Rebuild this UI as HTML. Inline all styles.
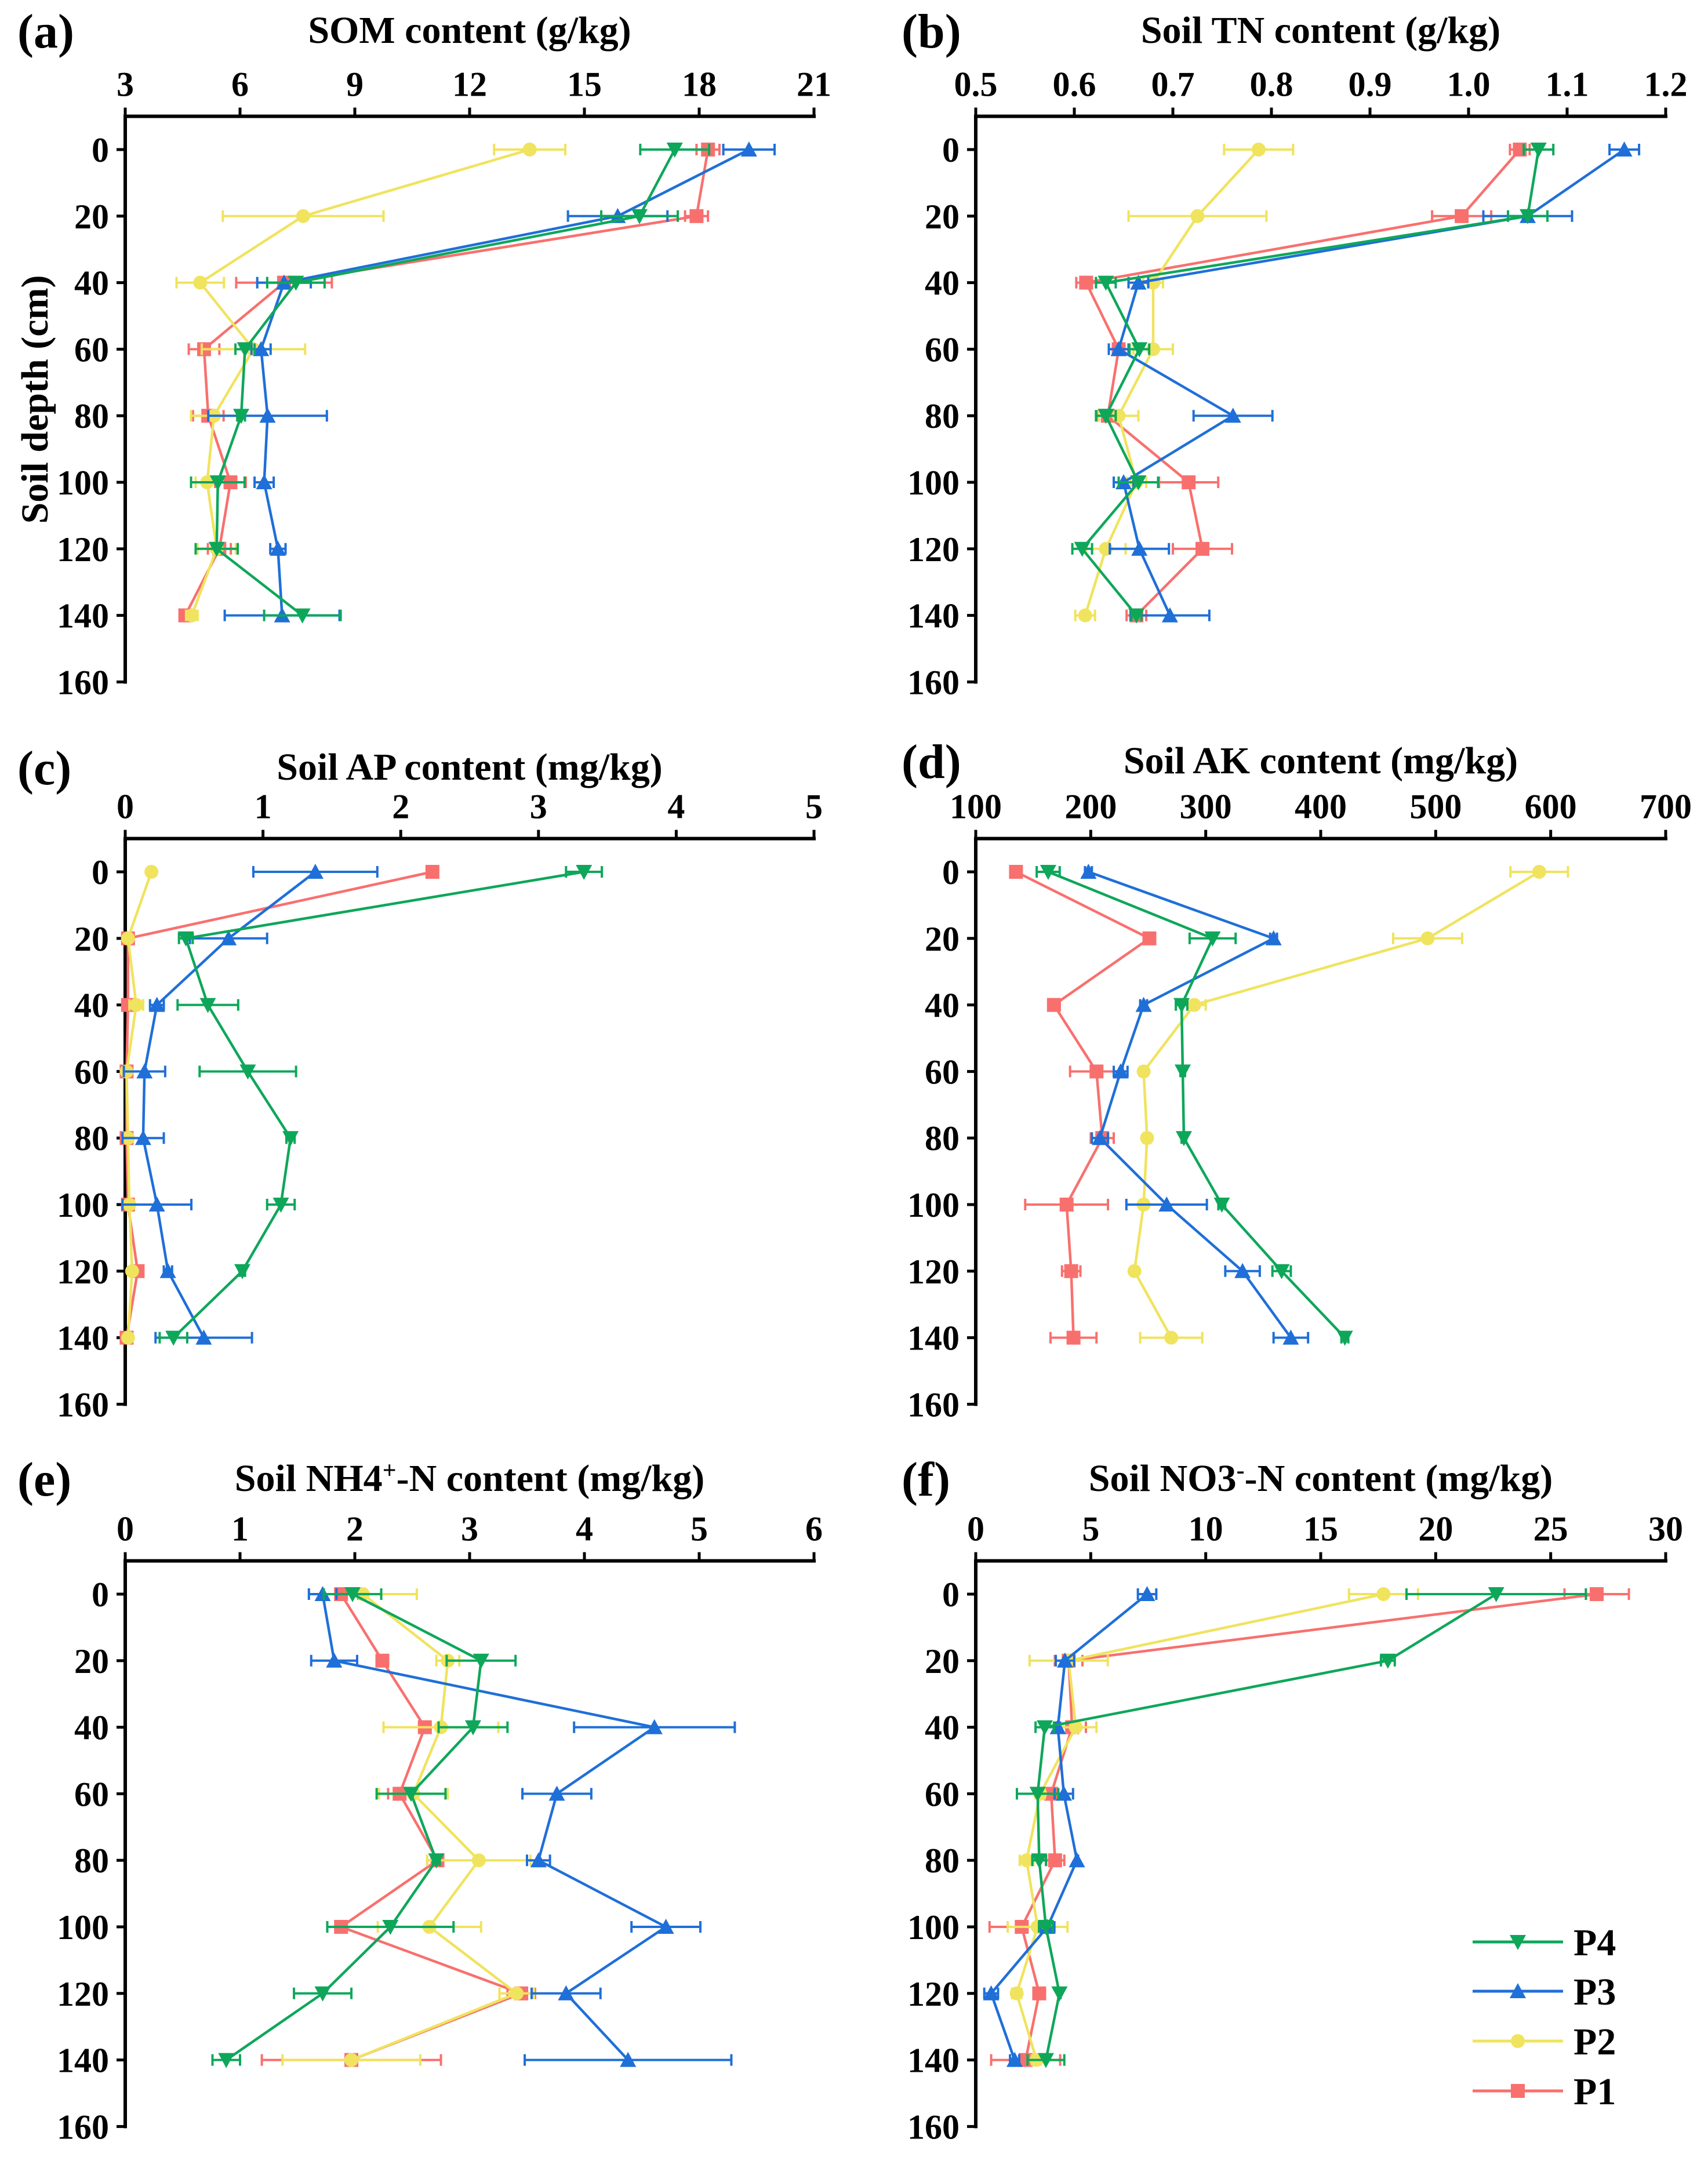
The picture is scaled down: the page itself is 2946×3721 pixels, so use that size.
<!DOCTYPE html>
<html><head><meta charset="utf-8"><style>
html,body{margin:0;padding:0;background:#fff}
svg{display:block}
text{font-family:"Liberation Serif",serif;font-weight:bold;fill:#000}
</style></head><body>
<svg id="chart" width="2946" height="3721" viewBox="0 0 2946 3721" xmlns="http://www.w3.org/2000/svg"></svg>
<script>
// depth categories
const depths = [0,20,40,60,80,100,120,140];
const depthTicks = [0,20,40,60,80,100,120,140,160];
const seriesNames = ["P1","P2","P3","P4"];
// (a) SOM
const somTicks = [3,6,9,12,15,18,21];
const somP1 = [18.23,17.93,7.15,5.06,5.17,5.75,5.46,4.57];
const somP1Err = [0.3,0.3,1.25,0.4,0.4,0.4,0.3,0.1];
const somP2 = [13.57,7.65,4.96,6.35,5.32,5.14,5.39,4.74];
const somP2Err = [0.93,2.1,0.62,1.35,0.6,0.3,0.5,0.15];
const somP3 = [19.3,15.87,7.15,6.55,6.72,6.63,6.99,7.1];
const somP3Err = [0.67,1.3,0.7,0.25,1.55,0.25,0.2,1.5];
const somP4 = [17.36,16.44,7.46,6.13,6.03,5.42,5.39,7.63];
const somP4Err = [0.9,1.0,0.75,0.25,0.1,0.7,0.55,1.0];
// (b) TN
const tnTicks = [0.5,0.6,0.7,0.8,0.9,1.0,1.1,1.2];
const tnP1 = [1.052,0.993,0.612,0.645,0.634,0.716,0.73,0.663];
const tnP1Err = [0.01,0.03,0.01,0.01,0.01,0.03,0.03,0.01];
const tnP2 = [0.787,0.725,0.68,0.68,0.645,0.663,0.632,0.611];
const tnP2Err = [0.035,0.07,0.01,0.02,0.02,0.01,0.02,0.01];
const tnP3 = [1.158,1.06,0.665,0.645,0.761,0.65,0.666,0.697];
const tnP3Err = [0.015,0.045,0.01,0.01,0.04,0.01,0.03,0.04];
const tnP4 = [1.071,1.06,0.632,0.666,0.632,0.665,0.608,0.663];
const tnP4Err = [0.015,0.02,0.01,0.01,0.01,0.02,0.01,0.005];
// (c) AP
const apTicks = [0,1,2,3,4,5];
const apP1 = [2.23,0.02,0.02,0.01,0.01,0.02,0.09,0.01];
const apP1Err = [0.03,0.01,0.01,0.01,0.01,0.01,0.03,0.01];
const apP2 = [0.19,0.02,0.08,0.01,0.02,0.03,0.05,0.02];
const apP2Err = [0.02,0.01,0.05,0.01,0.01,0.01,0.02,0.01];
const apP3 = [1.38,0.75,0.23,0.14,0.13,0.23,0.31,0.57];
const apP3Err = [0.45,0.28,0.05,0.15,0.15,0.25,0.03,0.35];
const apP4 = [3.33,0.44,0.6,0.89,1.2,1.13,0.85,0.35];
const apP4Err = [0.13,0.05,0.22,0.35,0.03,0.1,0.02,0.1];
// (d) AK
const akTicks = [100,200,300,400,500,600,700];
const akP1 = [135,251,168,205,210,179,183,185];
const akP1Err = [3,4,5,23,10,36,8,20];
const akP2 = [590,493,290,246,249,246,238,270];
const akP2Err = [25,30,10,3,3,3,3,27];
const akP3 = [198,359,246,226,208,266,332,374];
const akP3Err = [3,3,3,6,7,35,15,15];
const akP4 = [163,306,279,280,281,314,366,421];
const akP4Err = [10,20,5,2,2,3,8,3];
// (e) NH4
const nhTicks = [0,1,2,3,4,5,6];
const nhP1 = [1.88,2.24,2.61,2.39,2.72,1.88,3.45,1.97];
const nhP1Err = [0.15,0.03,0.05,0.1,0.03,0.03,0.12,0.78];
const nhP2 = [2.07,2.81,2.75,2.51,3.08,2.65,3.41,1.97];
const nhP2Err = [0.47,0.1,0.5,0.3,0.45,0.45,0.15,0.6];
const nhP3 = [1.72,1.82,4.61,3.76,3.6,4.71,3.84,4.38];
const nhP3Err = [0.12,0.2,0.7,0.3,0.1,0.3,0.3,0.9];
const nhP4 = [1.98,3.1,3.03,2.49,2.71,2.31,1.72,0.88];
const nhP4Err = [0.25,0.3,0.3,0.3,0.03,0.55,0.25,0.12];
// (f) NO3
const noTicks = [0,5,10,15,20,25,30];
const noP1 = [27.0,4.04,4.19,3.28,3.45,2.0,2.76,2.17];
const noP1Err = [1.4,0.6,0.6,0.2,0.4,1.4,0.1,1.5];
const noP2 = [17.73,4.04,4.35,2.8,2.21,2.69,1.78,2.64];
const noP2Err = [1.5,1.7,0.9,0.2,0.3,1.3,0.2,0.2];
const noP3 = [7.45,3.88,3.57,3.83,4.4,3.12,0.67,1.69];
const noP3Err = [0.4,0.4,0.1,0.4,0.05,0.3,0.3,0.2];
const noP4 = [22.63,17.92,3.0,2.69,2.76,3.05,3.64,3.05];
const noP4Err = [3.9,0.3,0.4,0.9,0.3,0.3,0.05,0.8];

const colors = {P1:"#f8706e",P2:"#f0e35e",P3:"#1f6fd8",P4:"#0ea75a"};
const NS = "http://www.w3.org/2000/svg";
const svg = document.getElementById("chart");
function mk(tag, attrs, parent){
  const e = document.createElementNS(NS, tag);
  for (const k in attrs) e.setAttribute(k, attrs[k]);
  (parent||svg).appendChild(e);
  return e;
}
function marker(g, name, cx, cy){
  const c = colors[name]; const s = 12;
  let m;
  if (name==="P1") m = mk("rect",{x:cx-s,y:cy-s,width:2*s,height:2*s,fill:c},g);
  else if (name==="P2") m = mk("circle",{cx:cx,cy:cy,r:s,fill:c},g);
  else if (name==="P3") m = mk("polygon",{points:`${cx},${cy-s-2} ${cx+s+2},${cy+s} ${cx-s-2},${cy+s}`,fill:c},g);
  else m = mk("polygon",{points:`${cx},${cy+s+2} ${cx+s+2},${cy-s} ${cx-s-2},${cy-s}`,fill:c},g);
  
  
  return m;
}
const STEP = 114.8;
function panel(p){
  const g = mk("g",{});
  
  
  const vmin = p.ticks[0], vmax = p.ticks[p.ticks.length-1];
  const xs = v => p.x0 + (v - vmin)/(vmax - vmin)*(p.x1 - p.x0);
  const ys = d => p.y0 + d/20*STEP;
  const top = ys(-10), bot = ys(160);
  // axes
  const ax = mk("path",{d:`M${p.x0},${bot} L${p.x0},${top} L${p.x1},${top}`,fill:"none",stroke:"#000","stroke-width":6,"stroke-linecap":"square"},g);
  
  
  p.ticks.forEach(t=>{
    const x = xs(t);
    const tl = mk("line",{x1:x,y1:top,x2:x,y2:top-15,stroke:"#000","stroke-width":5},g);
    
    
    const tx = mk("text",{x:x,y:top-35,"text-anchor":"middle","font-size":60},g);
    tx.textContent = String(t % 1 === 0 && p.key==="b" ? t.toFixed(1) : t);
    
    
  });
  depthTicks.forEach(d=>{
    const y = ys(d);
    const tl = mk("line",{x1:p.x0,y1:y,x2:p.x0-15,y2:y,stroke:"#000","stroke-width":5},g);
    
    
    const tx = mk("text",{x:p.x0-28,y:y+21,"text-anchor":"end","font-size":60},g);
    tx.textContent = String(d);
    
    
  });
  const ti = mk("text",{x:(p.x0+p.x1)/2,y:p.titleY,"text-anchor":"middle","font-size":66},g);
  ti.innerHTML = p.title;
  
  
  const lb = mk("text",{x:p.labelX,y:p.titleY+8,"font-size":84},g);
  lb.textContent = "("+p.key+")";
  
  
  // series
  ["P1","P2","P3","P4"].forEach((n,i)=>{
    const vals = p.series[i], errs = p.errs[i];
    const sg = mk("g",{},g);
    
    
    const pts = vals.map((v,j)=>xs(v)+","+ys(depths[j])).join(" ");
    const pl = mk("polyline",{points:pts,fill:"none",stroke:colors[n],"stroke-width":4.5},sg);
    
    
    vals.forEach((v,j)=>{
      const y = ys(depths[j]);
      const a = xs(v-errs[j]), b = xs(v+errs[j]);
      const eb = mk("path",{d:`M${a},${y} L${b},${y} M${a},${y-10} L${a},${y+10} M${b},${y-10} L${b},${y+10}`,stroke:colors[n],"stroke-width":4,fill:"none"},sg);
      
      
    });
    vals.forEach((v,j)=>marker(sg,n,xs(v),ys(depths[j])));
  });
}
const L0 = 216, L1 = 1404, R0 = 1683, R1 = 2873;
panel({key:"a",ticks:somTicks,x0:L0,x1:L1,y0:258,titleY:74,labelX:30,title:"SOM content (g/kg)",series:[somP1,somP2,somP3,somP4],errs:[somP1Err,somP2Err,somP3Err,somP4Err]});
panel({key:"b",ticks:tnTicks,x0:R0,x1:R1,y0:258,titleY:74,labelX:1555,title:"Soil TN content (g/kg)",series:[tnP1,tnP2,tnP3,tnP4],errs:[tnP1Err,tnP2Err,tnP3Err,tnP4Err]});
panel({key:"c",ticks:apTicks,x0:L0,x1:L1,y0:1504,titleY:1345,labelX:30,title:"Soil AP content (mg/kg)",series:[apP1,apP2,apP3,apP4],errs:[apP1Err,apP2Err,apP3Err,apP4Err]});
panel({key:"d",ticks:akTicks,x0:R0,x1:R1,y0:1504,titleY:1334,labelX:1555,title:"Soil AK content (mg/kg)",series:[akP1,akP2,akP3,akP4],errs:[akP1Err,akP2Err,akP3Err,akP4Err]});
panel({key:"e",ticks:nhTicks,x0:L0,x1:L1,y0:2750,titleY:2572,labelX:30,title:"Soil NH4<tspan dy=\"-22\" font-size=\"42\">+</tspan><tspan dy=\"22\">-N content (mg/kg)</tspan>",series:[nhP1,nhP2,nhP3,nhP4],errs:[nhP1Err,nhP2Err,nhP3Err,nhP4Err]});
panel({key:"f",ticks:noTicks,x0:R0,x1:R1,y0:2750,titleY:2572,labelX:1555,title:"Soil NO3<tspan dy=\"-22\" font-size=\"42\">-</tspan><tspan dy=\"22\">-N content (mg/kg)</tspan>",series:[noP1,noP2,noP3,noP4],errs:[noP1Err,noP2Err,noP3Err,noP4Err]});
// y-axis title
const yt = mk("text",{x:0,y:0,"text-anchor":"middle","font-size":66,transform:"translate(82,689) rotate(-90)"});
yt.textContent = "Soil depth (cm)";


// legend
const lg = mk("g",{});


[["P4",3350],["P3",3435],["P2",3521],["P1",3607]].forEach(([n,y])=>{
  const e = mk("g",{},lg);
  
  
  mk("line",{x1:2540,y1:y,x2:2696,y2:y,stroke:colors[n],"stroke-width":5},e);
  marker(e,n,2618,y);
  const t = mk("text",{x:2714,y:y+23,"font-size":66},e);
  t.textContent = n;
  
  
});
</script>
</body></html>
